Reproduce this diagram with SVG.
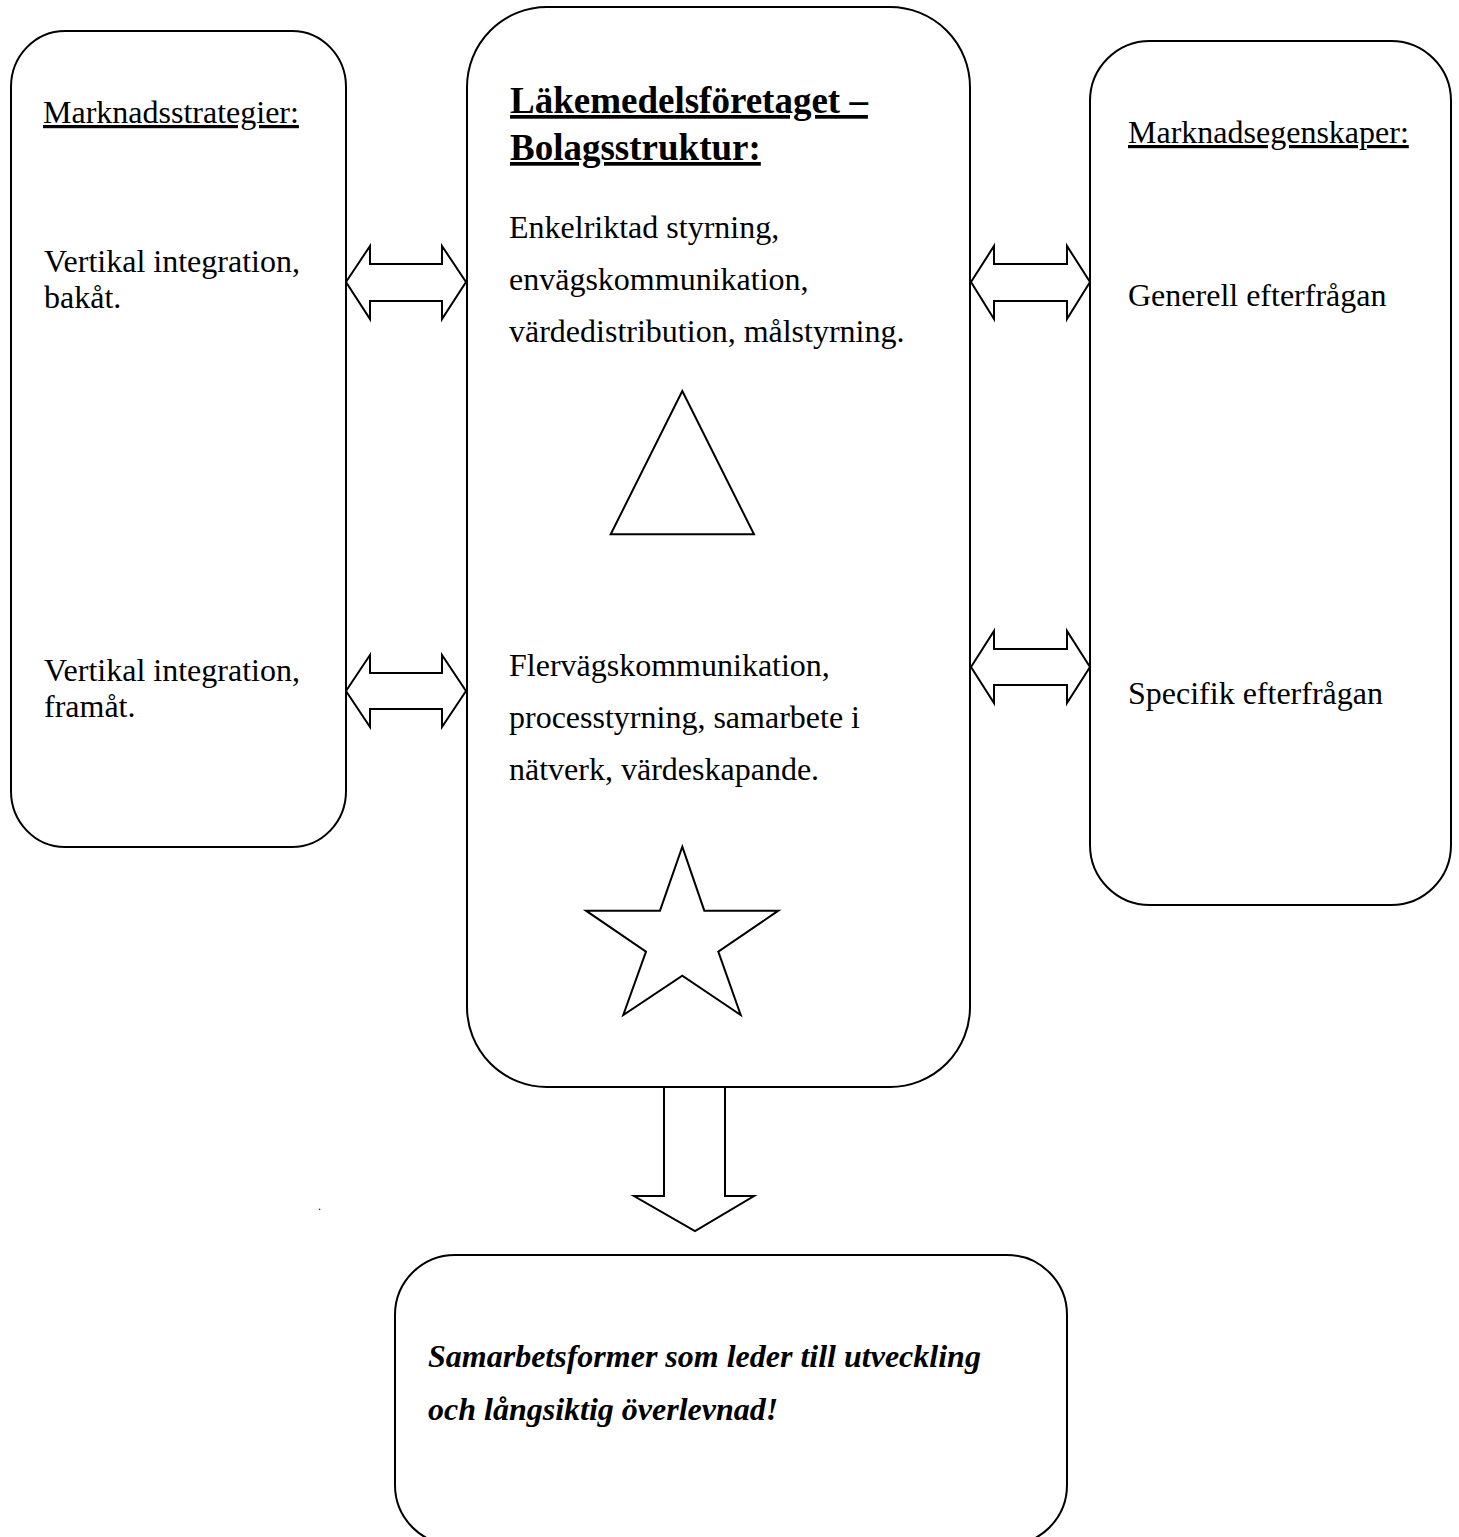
<svg xmlns="http://www.w3.org/2000/svg" width="1459" height="1537" viewBox="0 0 1459 1537">
<style>
.box{fill:#fff;stroke:#000;stroke-width:2}
.shape{fill:#fff;stroke:#000;stroke-width:2;stroke-linejoin:miter}
text{font-family:"Liberation Serif","Times New Roman",serif;fill:#000}
.t{font-size:32px}
.u{text-decoration:underline}
.title{font-size:37px;font-weight:bold;text-decoration:underline}
.bi{font-size:32px;font-weight:bold;font-style:italic}
</style>
<rect width="1459" height="1537" fill="#fff"/>
<g id="left-box">
<rect class="box" x="11" y="31" width="335" height="816" rx="54" ry="56"/>
<text class="t u" x="43" y="123">Marknadsstrategier:</text>
<text class="t" x="44" y="272">Vertikal integration,</text>
<text class="t" x="44" y="308">bakåt.</text>
<text class="t" x="44" y="681">Vertikal integration,</text>
<text class="t" x="44" y="717">framåt.</text>
</g>
<g id="center-box">
<rect class="box" x="467" y="7" width="503" height="1080" rx="80" ry="80"/>
<text class="title" x="510" y="113">Läkemedelsföretaget –</text>
<text class="title" x="510" y="160">Bolagsstruktur:</text>
<text class="t" x="509" y="238">Enkelriktad styrning,</text>
<text class="t" x="509" y="290">envägskommunikation,</text>
<text class="t" x="509" y="342">värdedistribution, målstyrning.</text>
<polygon class="shape" points="682.3,391 754,534.3 610.7,534.3"/>
<text class="t" x="509" y="676">Flervägskommunikation,</text>
<text class="t" x="509" y="728">processtyrning, samarbete i</text>
<text class="t" x="509" y="780">nätverk, värdeskapande.</text>
<polygon class="shape" points="682.3,846.7 704.3,910.7 778.3,910.7 718.3,951.7 740.7,1015 682.3,975.7 623.3,1015 646,951.7 586,910.7 660,910.7"/>
</g>
<g id="right-box">
<rect class="box" x="1090" y="41" width="361" height="864" rx="60" ry="60"/>
<text class="t u" x="1128" y="143">Marknadsegenskaper:</text>
<text class="t" x="1128" y="306">Generell efterfrågan</text>
<text class="t" x="1128" y="704">Specifik efterfrågan</text>
</g>
<g id="bottom-box">
<rect class="box" x="395" y="1255" width="672" height="290" rx="60" ry="60"/>
<text class="bi" x="428" y="1367">Samarbetsformer som leder till utveckling</text>
<text class="bi" x="428" y="1420">och långsiktig överlevnad!</text>
</g>
<g id="connectors">
<polygon class="shape" points="346,282 370,246 370,264 442,264 442,246 466,282 442,319 442,301 370,301 370,319"/>
<polygon class="shape" points="971,282 994,246 994,264 1067,264 1067,246 1090,282 1067,319 1067,301 994,301 994,319"/>
<polygon class="shape" points="346,691 370,655 370,673 442,673 442,655 466,691 442,727 442,709 370,709 370,727"/>
<polygon class="shape" points="971,667 994,631 994,649 1067,649 1067,631 1090,667 1067,703 1067,685 994,685 994,703"/>
<polygon class="shape" points="664,1087 725,1087 725,1196 754,1196 695,1231 634,1196 664,1196"/>
</g>
<text x="318" y="1210" style="font-size:12px">.</text>
</svg>
